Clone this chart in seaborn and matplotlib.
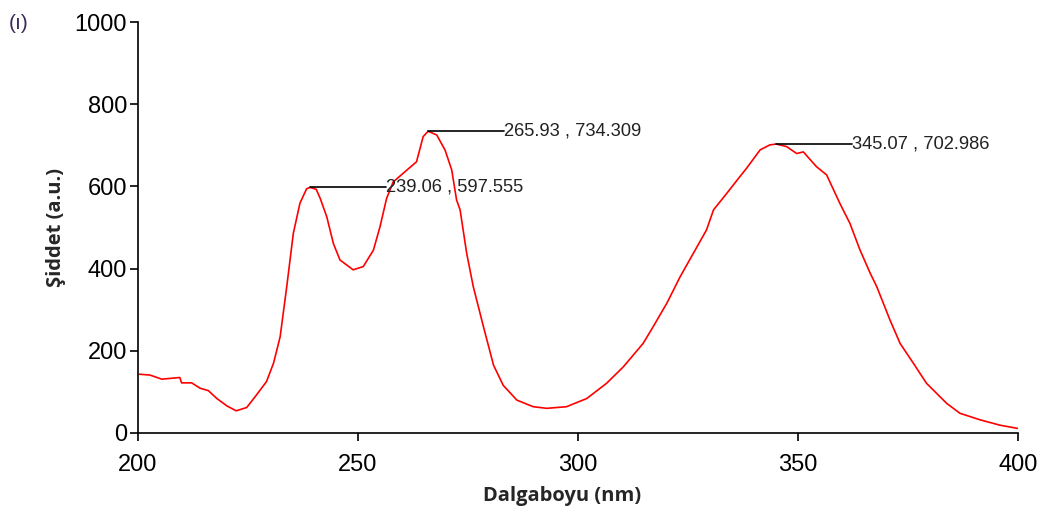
import matplotlib
matplotlib.use('Agg')
import matplotlib.pyplot as plt
import seaborn as sns
import pandas as pd

# ==========================================================
# DATA
# ==========================================================
wavelength = [200.3, 202.7, 205.4, 209.5, 209.9, 212.2, 214.1, 216.0, 217.9, 220.2,
              222.3, 224.7, 226.6, 229.2, 230.8, 232.3, 233.8, 235.3, 236.8, 238.3,
              239.06, 240.5, 241.4, 242.9, 244.4, 245.9, 248.9, 251.2, 253.5, 255.0,
              256.5, 258.0, 263.3, 264.8, 265.93, 267.9, 269.8, 271.3, 272.4, 273.2,
              274.7, 276.2, 278.5, 280.8, 283.0, 286.1, 289.8, 292.9, 297.4, 302.0,
              306.5, 310.3, 314.8, 317.1, 320.2, 323.2, 326.2, 329.2, 330.8, 333.8,
              336.8, 338.3, 341.4, 343.6, 345.07, 347.4, 349.7, 351.2, 354.2, 356.5,
              359.5, 361.8, 364.1, 366.4, 367.9, 370.9, 373.2, 376.2, 379.2, 383.8,
              386.8, 391.4, 395.9, 400.0]
intensity = [143, 141, 131, 135, 122, 122, 109, 103, 84, 66,
             54, 62, 88, 125, 170, 234, 356, 486, 559, 594,
             597.6, 593, 571, 526, 461, 421, 397, 405, 445, 502,
             571, 611, 660, 721, 734.3, 725, 688, 640, 567, 543,
             437, 356, 259, 165, 116, 80, 64, 60, 64, 84,
             121, 161, 218, 259, 316, 380, 437, 494, 543, 583,
             624, 644, 689, 701, 703.0, 697, 680, 684, 648, 628,
             559, 510, 445, 389, 356, 275, 218, 170, 121, 72,
             48, 32, 19, 11]

peak_x = [239.06, 265.93, 345.07]
peak_y = [597.555, 734.309, 702.986]
peak_labels = ["239.06 , 597.555", "265.93 , 734.309", "345.07 , 702.986"]

x_ticks = [200, 250, 300, 350, 400]
y_ticks = [0, 200, 400, 600, 800, 1000]

# ==========================================================
# PLOT
# ==========================================================
sns.set_theme(style="white")
plt.rcParams['font.family'] = ['Liberation Sans', 'DejaVu Sans']

df = pd.DataFrame({"x": wavelength, "y": intensity})

fig = plt.figure(figsize=(10.44, 5.18), dpi=100)
ax = fig.add_axes([0.1322, 0.1641, 0.8429, 0.7934])

sns.lineplot(data=df, x="x", y="y", ax=ax, color="#ff0000", linewidth=1.2, sort=False)

# peak markers: short horizontal line + label
for px, py, lab in zip(peak_x, peak_y, peak_labels):
    ax.plot([px, px + 17.3], [py, py], color="black", linewidth=1.2)
    ax.text(px + 17.3, py, lab, fontsize=13.2, va="center", ha="left", color="#222222")

ax.set_xlim(200, 400)
ax.set_ylim(0, 1000)
ax.set_xticks(x_ticks)
ax.set_yticks(y_ticks)
ax.tick_params(axis="both", direction="out", length=6, width=1.2, color="black",
               labelsize=17, labelcolor="black", bottom=True, left=True)
ax.tick_params(axis="x", pad=9)
ax.tick_params(axis="y", pad=2)

for side in ["top", "right"]:
    ax.spines[side].set_visible(False)
for side in ["left", "bottom"]:
    ax.spines[side].set_color("black")
    ax.spines[side].set_linewidth(1.2)

ax.set_xlabel("Dalgaboyu (nm)", fontsize=14.5, fontweight="bold",
              family=["Open Sans", "DejaVu Sans"])
ax.xaxis.set_label_coords(0.482, -0.13)
ax.set_ylabel("Şiddet (a.u.)", fontsize=14.5, fontweight="bold",
              family=["Open Sans", "DejaVu Sans"], labelpad=6)

fig.text(0.008, 0.955, "(ı)", fontsize=15, color="#3a2a5a", va="center", ha="left")

fig.savefig("out.png", dpi=100)
